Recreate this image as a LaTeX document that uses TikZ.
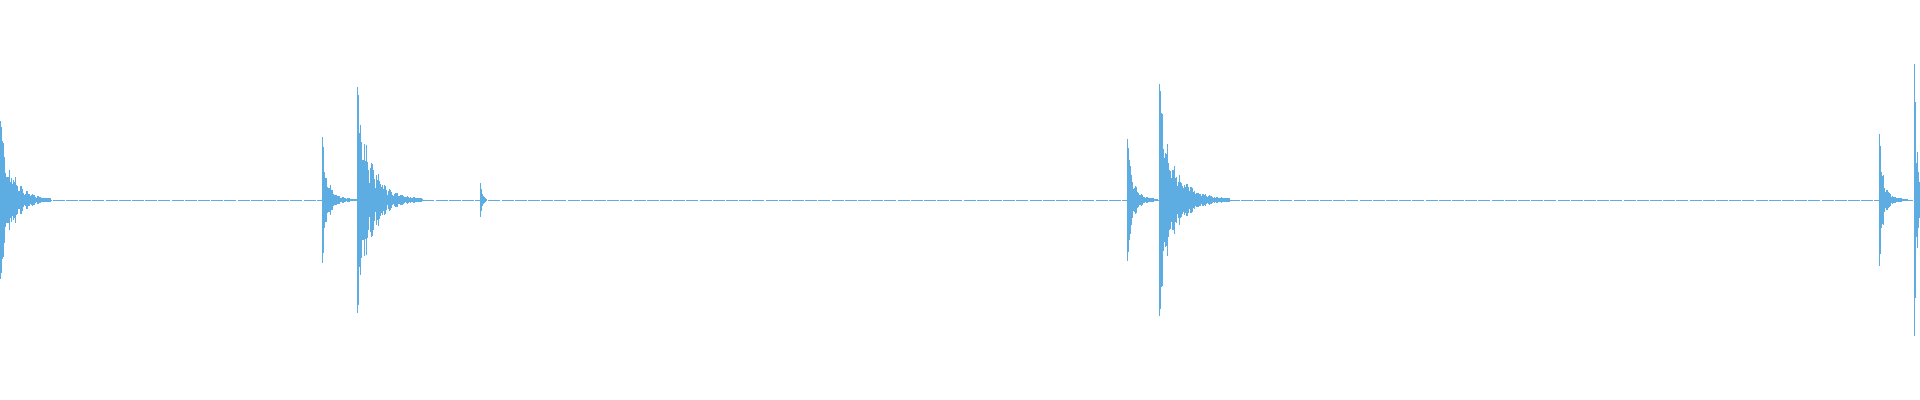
\documentclass[tikz,border=0pt]{standalone}
\definecolor{wave}{HTML}{5DADE2}
\begin{document}
\begin{tikzpicture}[x=0.5pt,y=-0.5pt,wv/.style={wave,line width=0.35pt}]
\useasboundingbox (0,0) rectangle (1920,400);
\pgfmathsetseed{7}
\draw[wv,dash pattern=on 6pt off 0.6pt] (0,200) -- (1920,200);
% bursts: start, amplitude, tau, length
\foreach \s/\a/\t/\l in {0/78/12/50, 322/62/6/36, 357/112/14/65, 480/16/2/6, 1127/60/6/30, 1159/115/15/70, 1879/65/5/28, 1914/135/3/6}{
  \foreach \i in {0,0.5,...,\l}{
    \pgfmathsetmacro\h{\a*exp(-\i/\t)*(\i<1.5 ? 1 : (0.5+0.5*rnd)*(0.5+0.5*abs(sin(\i*30))))+1}
    \draw[wv] (\s+\i,200-\h) -- (\s+\i,200+\h);
  }
}
\end{tikzpicture}
\end{document}
